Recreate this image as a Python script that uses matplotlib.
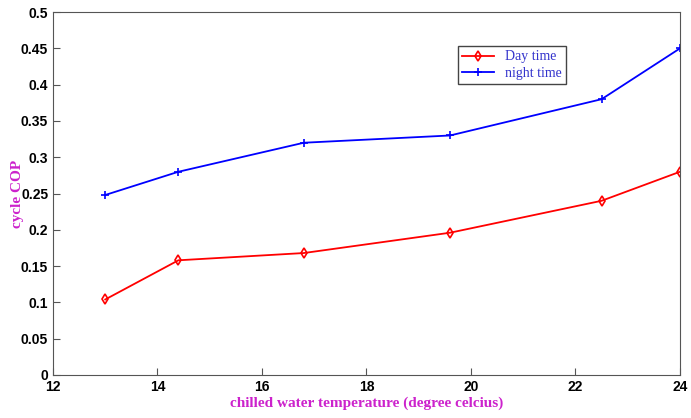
import matplotlib.pyplot as plt

# chilled water temperature vs cycle COP
temp = [13, 14.4, 16.8, 19.6, 22.5, 24]
cop_day = [0.104, 0.158, 0.168, 0.196, 0.240, 0.280]
cop_night = [0.248, 0.280, 0.320, 0.330, 0.380, 0.450]

fig = plt.figure(figsize=(6.91, 4.18), dpi=100)
ax = fig.add_axes([0.0767, 0.103, 0.9073, 0.868])

ax.plot(temp, cop_day, color='red', marker='d', markersize=5, markerfacecolor='none',
        markeredgewidth=1.2, linewidth=1.3, label='Day time')
ax.plot(temp, cop_night, color='blue', marker='+', markersize=6, markeredgewidth=1.2,
        linewidth=1.3, label='night time')

ax.set_xlim(12, 24)
ax.set_ylim(0, 0.5)
ax.set_xticks(range(12, 25, 2))
ax.set_yticks([0, 0.05, 0.1, 0.15, 0.2, 0.25, 0.3, 0.35, 0.4, 0.45, 0.5])
ax.set_yticklabels(['0', '0.05', '0.1', '0.15', '0.2', '0.25', '0.3', '0.35', '0.4', '0.45', '0.5'])
ax.tick_params(direction='in', length=5, width=0.8, color='#555555')
for lab in ax.get_xticklabels() + ax.get_yticklabels():
    lab.set_fontfamily('Liberation Sans')
    lab.set_fontweight('bold')
    lab.set_fontsize(10)
for s in ax.spines.values():
    s.set_color('#555555')

ax.set_xlabel('chilled water temperature (degree celcius)', family='Liberation Serif',
              fontweight='bold', fontsize=11, color='#cc22cc', labelpad=2)
ax.set_ylabel('cycle COP', family='Liberation Serif', fontweight='bold', fontsize=11,
              color='#cc22cc', labelpad=-2)

leg = ax.legend(loc='upper left', bbox_to_anchor=(0.635, 0.925), fancybox=False,
                edgecolor='#444444', prop={'family': 'Liberation Serif', 'size': 10},
                handlelength=2.3, borderpad=0.3, labelspacing=0.25, framealpha=1)
for t in leg.get_texts():
    t.set_color('#3333cc')

fig.savefig('out.png', dpi=100)
